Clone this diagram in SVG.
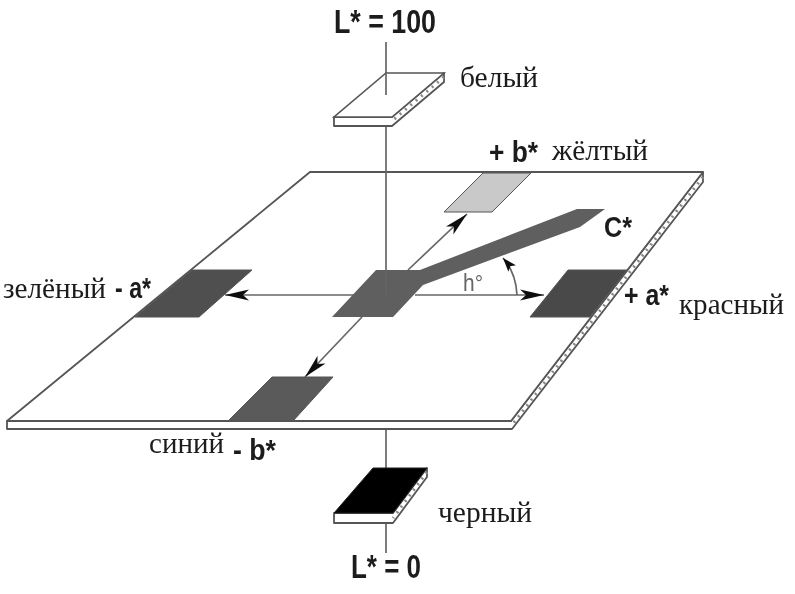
<svg xmlns="http://www.w3.org/2000/svg" width="795" height="594" viewBox="0 0 795 594">
<defs>
<style>
.ln{fill:none;stroke:#666;stroke-width:1.7}
.edge{fill:#fff;stroke:#555;stroke-width:1.8;stroke-linejoin:round}
.hatch{fill:none;stroke:#888;stroke-width:3;stroke-dasharray:2 5}
.patch{stroke:#555;stroke-width:1}
.s{font-family:"Liberation Sans",Arial,sans-serif;font-weight:700;fill:#1a1a1a}
.r{font-family:"Liberation Serif","Times New Roman",serif;font-size:30px;fill:#1a1a1a}
</style>
<filter id="soft" x="0" y="0" width="100%" height="100%"><feGaussianBlur stdDeviation="0.45"/></filter>
<marker id="ah" markerUnits="userSpaceOnUse" markerWidth="26" markerHeight="14" refX="24" refY="6" orient="auto"><path d="M0 0.5L24 6L0 11.5L6 6Z" fill="#111"/></marker>
<marker id="ah2" markerUnits="userSpaceOnUse" markerWidth="16" markerHeight="12" refX="14" refY="5" orient="auto"><path d="M0 0L14 5L0 10L3 5Z" fill="#111"/></marker>
</defs>
<rect width="795" height="594" fill="#fff"/>
<g filter="url(#soft)">
<g id="white-chip-axis"><path class="ln" d="M386 42V95"/></g>

<g id="plane">
<path class="edge" d="M7 421H511L703 172V182L512 429H7Z"/>
<path class="edge" d="M310 172H703L511 421H7Z"/>
<path class="hatch" d="M703 177L512 425"/>
</g>

<g id="connectors">
<path class="ln" d="M386 127V270"/>
<path class="ln" d="M386 430V470"/>
<path class="ln" d="M386 523V553"/>
<path class="ln" d="M376 295H225" marker-end="url(#ah)"/>
<path class="ln" d="M415 295H544" marker-end="url(#ah)"/>
<path class="ln" d="M408 270L467 214" marker-end="url(#ah)"/>
<path class="ln" d="M362 317L305 377" marker-end="url(#ah)"/>
<path class="ln" d="M517 295Q516 273 503 258" marker-end="url(#ah2)"/>
</g>

<g id="white-chip">
<path class="edge" d="M334 117H392L444 73V82L392 126H334Z"/>
<path d="M386 73H444L392 117H334Z" fill="#fff" stroke="#555" stroke-width="1.6"/>
<path class="hatch" d="M444 77L392 121"/>
<path class="ln" d="M386 73V95"/>
</g>
<g id="black-chip">
<path class="edge" d="M334 513H393L427 468V477L393 523H334Z"/>
<path d="M373 468H427L393 513H334Z" fill="#000" stroke="#222"/>
<path class="hatch" d="M427 472L393 518"/>
</g>
<g id="yellow-patch"><path class="patch" fill="#c9c9c9" d="M483 173H531L492 212H444Z"/></g>
<g id="green-patch"><path class="patch" fill="#4f4f4f" d="M192 270H252L199 317H135Z"/></g>
<g id="red-patch"><path class="patch" fill="#4a4a4a" d="M568 270H627L590 317H530Z"/></g>
<g id="blue-patch"><path class="patch" fill="#5a5a5a" d="M272 377H333L293 421H228Z"/></g>
<g id="center-patch">
<path fill="#5e5e5e" d="M376 270H420L577 209H605L580 227L423 285L393 317H332Z"/>
<path class="ln" d="M386 270V295"/>
</g>

<g id="labels">
<text class="s" x="334" y="33" font-size="33" textLength="102" lengthAdjust="spacingAndGlyphs">L* = 100</text>
<text class="r" x="460" y="87" textLength="78" lengthAdjust="spacingAndGlyphs">белый</text>
<text class="s" x="489" y="162" font-size="29" textLength="49" lengthAdjust="spacingAndGlyphs">+ b*</text>
<text class="r" x="552" y="160" textLength="96" lengthAdjust="spacingAndGlyphs">жёлтый</text>
<text class="s" x="604" y="237" font-size="29" textLength="28" lengthAdjust="spacingAndGlyphs">C*</text>
<text x="463" y="291" font-family="Liberation Sans, Arial, sans-serif" font-size="23" fill="#666" textLength="20" lengthAdjust="spacingAndGlyphs">h°</text>
<text class="s" x="624" y="305" font-size="29" textLength="45" lengthAdjust="spacingAndGlyphs">+ a*</text>
<text class="r" x="679" y="314" textLength="105" lengthAdjust="spacingAndGlyphs">красный</text>
<text class="r" x="3" y="298" textLength="103" lengthAdjust="spacingAndGlyphs">зелёный</text>
<text class="s" x="115" y="298" font-size="29" textLength="36" lengthAdjust="spacingAndGlyphs">- a*</text>
<text class="r" x="149" y="453" textLength="75" lengthAdjust="spacingAndGlyphs">синий</text>
<text class="s" x="233" y="460" font-size="29" textLength="43" lengthAdjust="spacingAndGlyphs">- b*</text>
<text class="r" x="438" y="522" textLength="94" lengthAdjust="spacingAndGlyphs">черный</text>
<text class="s" x="351" y="578" font-size="33" textLength="70" lengthAdjust="spacingAndGlyphs">L* = 0</text>
</g>
</g>
</svg>
